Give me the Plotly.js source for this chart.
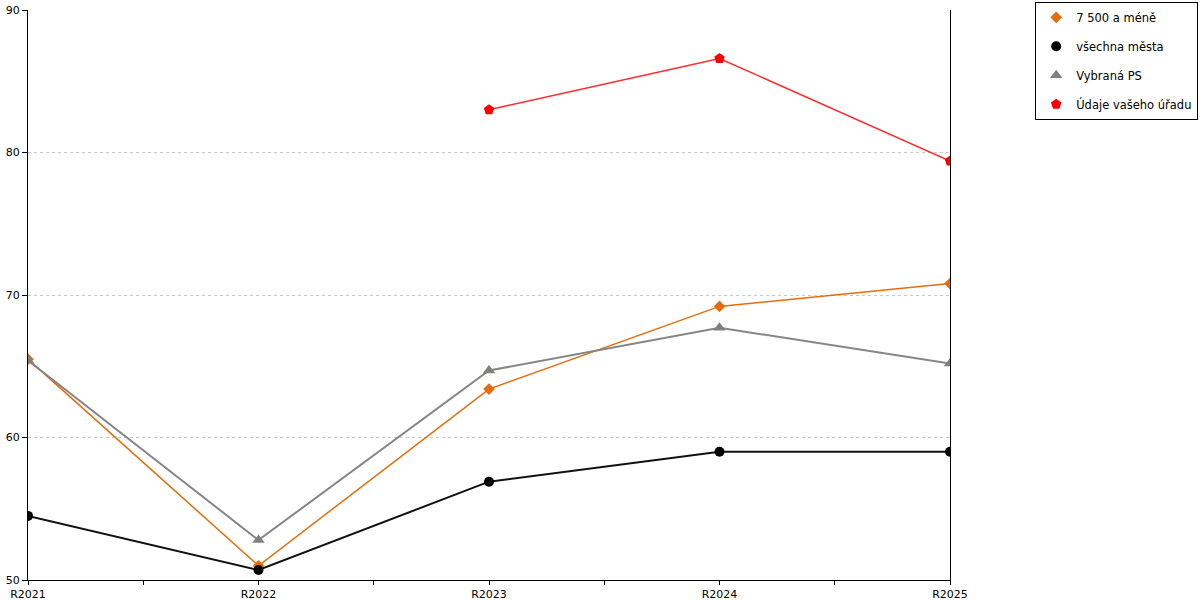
<!DOCTYPE html>
<html>
<head>
<meta charset="utf-8">
<script src="https://cdn.plot.ly/plotly-3.0.1.min.js"></script>
<style>body{margin:0;background:#fff}</style>
</head>
<body>
<div id="chart" style="width:1200px;height:600px"></div>
<script>
var years = ["R2021", "R2022", "R2023", "R2024", "R2025"];
var small = [65.5, 51.0, 63.4, 69.2, 70.8];
var allCities = [54.5, 50.7, 56.9, 59.0, 59.0];
var selected = [65.4, 52.8, 64.7, 67.7, 65.2];
var office = [null, null, 83.0, 86.6, 79.4];

var tickPos = [0, 0.5, 1, 1.5, 2, 2.5, 3, 3.5, 4];
var tickText = ["R2021", "", "R2022", "", "R2023", "", "R2024", "", "R2025"];
var yTicks = [50, 60, 70, 80, 90];

var series = [
    {name: "7 500 a méně", y: small, color: "#e46c0a", lineColor: "#e46c0a", width: 1.5, symbol: "diamond", size: 9},
    {name: "všechna města", y: allCities, color: "#000000", lineColor: "#111111", width: 2, symbol: "circle", size: 10},
    {name: "Vybraná PS", y: selected, color: "#808080", lineColor: "#868686", width: 2, symbol: "triangle-up", size: 11},
    {name: "Údaje vašeho úřadu", y: office, color: "#ff0000", lineColor: "#ff2a2a", width: 1.5, symbol: "pentagon", size: 11}
];

var data = [];
// lines first, without legend entries
series.forEach(function(s) {
    data.push({
        x: years, y: s.y, type: "scatter", mode: "lines",
        showlegend: false, hoverinfo: "skip",
        line: {color: s.lineColor, width: s.width}
    });
});
// markers on top, legend shows the marker only
series.forEach(function(s, i) {
    data.push({
        x: years, y: s.y, name: s.name, legendgroup: "g" + i,
        type: "scatter", mode: "markers",
        marker: {symbol: s.symbol, size: s.size, color: s.color}
    });
});

var layout = {
    width: 1200,
    height: 600,
    paper_bgcolor: "#fff",
    plot_bgcolor: "#fff",
    font: {family: "DejaVu Sans, sans-serif", size: 11, color: "#000"},
    margin: {l: 28, r: 250, t: 10, b: 20},
    showlegend: true,
    legend: {
        xref: "container", yref: "container",
        x: 0.9985, y: 0.997, xanchor: "right", yanchor: "top",
        bordercolor: "#000", borderwidth: 1,
        font: {size: 11.5},
        itemwidth: 30,
        tracegroupgap: 10
    },
    xaxis: {
        type: "category",
        range: [0, 4],
        tickmode: "array", tickvals: tickPos, ticktext: tickText,
        ticks: "outside", ticklen: 4, tickcolor: "#000",
        showline: true, linecolor: "#000", linewidth: 1,
        showgrid: false, zeroline: false
    },
    xaxis2: {
        type: "category", overlaying: "x", anchor: "y",
        range: [0, 4],
        tickmode: "array", tickvals: tickPos, ticktext: tickText,
        ticks: "inside", ticklen: 4, tickcolor: "#000",
        showticklabels: false, showgrid: false, showline: false, zeroline: false
    },
    yaxis: {
        range: [50, 90],
        tickmode: "array", tickvals: yTicks,
        ticks: "outside", ticklen: 5, tickcolor: "#000",
        showline: true, mirror: true, linecolor: "#000", linewidth: 1,
        showgrid: true, gridcolor: "#c8c8c8", griddash: "dot",
        zeroline: false
    },
    yaxis2: {
        range: [50, 90], overlaying: "y", anchor: "x", side: "left",
        tickmode: "array", tickvals: yTicks,
        ticks: "inside", ticklen: 5, tickcolor: "#000",
        showticklabels: false, showgrid: false, showline: false, zeroline: false
    }
};

Plotly.newPlot("chart", data, layout, {displayModeBar: false});
</script>
</body>
</html>
